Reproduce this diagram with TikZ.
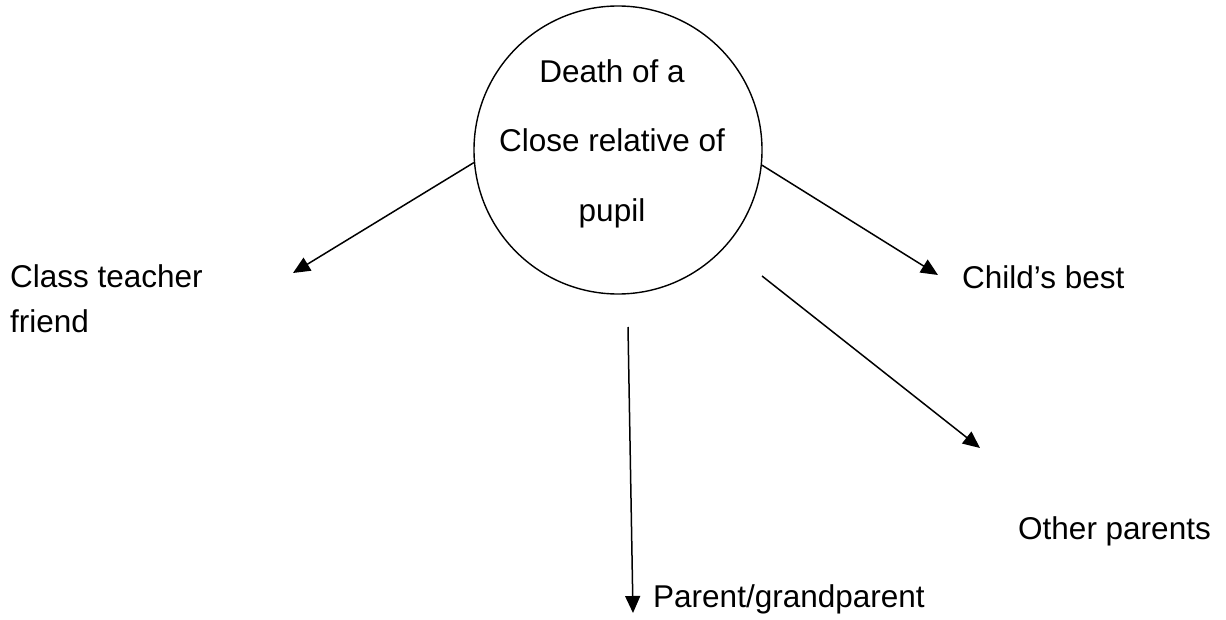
\documentclass[tikz,border=0pt]{standalone}
\usepackage{fontspec}
\setmainfont{Liberation Sans}
\usetikzlibrary{arrows.meta}
\begin{document}
\begin{tikzpicture}[x=1pt,y=-1pt,
  lbl/.style={font=\fontsize{31.5}{38}\selectfont, inner sep=0pt, anchor=base west},
  ctext/.style={font=\fontsize{31.5}{38}\selectfont, inner sep=0pt, anchor=base},
  arr/.style={line width=1.5pt, -{Triangle[length=17pt,width=15pt]}},
  bigcircle/.style={draw, circle, line width=1.4pt, minimum size=288pt, inner sep=0pt}]
\useasboundingbox (0,0) rectangle (1226,620);
\node[bigcircle] (c) at (618,150) {};
\node[ctext] (t1) at (612,83) {Death of a};
\node[ctext] (t2) at (612,152) {Close relative of};
\node[ctext] (t3) at (612,222) {pupil};
\node[lbl] (ct) at (10,288) {Class teacher};
\node[lbl] (fr) at (10,332) {friend};
\node[lbl] (cb) at (962,289) {Child’s best};
\node[lbl] (op) at (1018,539) {Other parents};
\node[lbl] (pg) at (653,607) {Parent/grandparent};
\coordinate (eL) at (293,273);
\coordinate (eR) at (938,275);
\coordinate (s2) at (762,276);
\coordinate (e2) at (980,448);
\coordinate (sD) at (628,327);
\coordinate (eD) at (633,613);
\draw[arr] (c.185.9) -- (eL);
\draw[arr] (c.354.1) -- (eR);
\draw[arr] (s2) -- (e2);
\draw[arr] (sD) -- (eD);
\end{tikzpicture}
\end{document}
